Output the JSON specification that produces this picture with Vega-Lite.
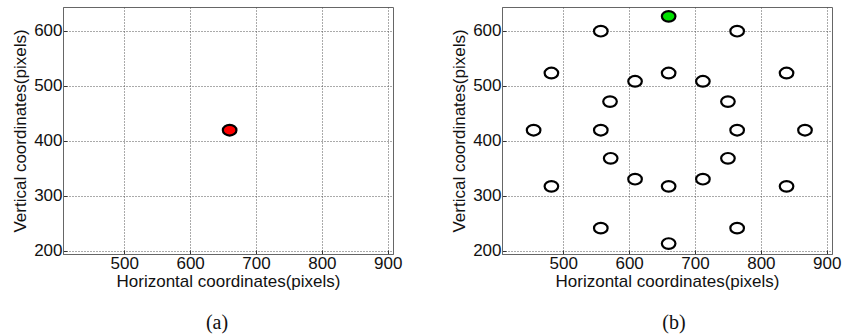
{
  "$schema": "https://vega.github.io/schema/vega-lite/v6.json",
  "padding": {"left": 11, "top": 6, "right": 5, "bottom": 0},
  "background": "white",
  "datasets": {
    "pts": [
      {"panel": "a", "kind": "center", "x": 660, "y": 419},
      {"panel": "b", "kind": "target", "x": 660, "y": 626},
      {"panel": "b", "kind": "other", "x": 557, "y": 599},
      {"panel": "b", "kind": "other", "x": 764, "y": 599},
      {"panel": "b", "kind": "other", "x": 482, "y": 523},
      {"panel": "b", "kind": "other", "x": 660, "y": 523},
      {"panel": "b", "kind": "other", "x": 839, "y": 523},
      {"panel": "b", "kind": "other", "x": 609, "y": 508},
      {"panel": "b", "kind": "other", "x": 712, "y": 508},
      {"panel": "b", "kind": "other", "x": 571, "y": 471},
      {"panel": "b", "kind": "other", "x": 750, "y": 471},
      {"panel": "b", "kind": "other", "x": 455, "y": 419},
      {"panel": "b", "kind": "other", "x": 557, "y": 419},
      {"panel": "b", "kind": "other", "x": 764, "y": 419},
      {"panel": "b", "kind": "other", "x": 867, "y": 419},
      {"panel": "b", "kind": "other", "x": 572, "y": 368},
      {"panel": "b", "kind": "other", "x": 750, "y": 368},
      {"panel": "b", "kind": "other", "x": 609, "y": 330},
      {"panel": "b", "kind": "other", "x": 712, "y": 330},
      {"panel": "b", "kind": "other", "x": 482, "y": 317},
      {"panel": "b", "kind": "other", "x": 660, "y": 317},
      {"panel": "b", "kind": "other", "x": 839, "y": 317},
      {"panel": "b", "kind": "other", "x": 557, "y": 241},
      {"panel": "b", "kind": "other", "x": 764, "y": 241},
      {"panel": "b", "kind": "other", "x": 660, "y": 213}
    ]
  },
  "config": {
    "view": {"stroke": "#666", "strokeWidth": 1},
    "axis": {
      "labelFont": "Liberation Sans",
      "titleFont": "Liberation Sans",
      "labelFontSize": 17,
      "titleFontSize": 17,
      "titleFontWeight": "normal",
      "labelColor": "#111",
      "titleColor": "#111",
      "grid": true,
      "gridDash": [1, 2],
      "gridColor": "#555",
      "gridOpacity": 1,
      "domainColor": "#666",
      "tickColor": "#333",
      "tickSize": -4,
      "labelPadding": 5
    },
    "title": {"font": "Liberation Serif", "fontSize": 20, "fontWeight": "normal", "color": "#111"},
    "concat": {"spacing": 47}
  },
  "hconcat": [
    {
      "width": 330,
      "height": 247,
      "title": {"text": "(a)", "orient": "bottom", "offset": 24, "dx": -11},
      "data": {"name": "pts"},
      "transform": [{"filter": "datum.panel === 'a'"}],
      "mark": {"type": "point", "filled": true, "shape": "M-1,0A1,0.78 0 1,0 1,0A1,0.78 0 1,0 -1,0Z", "size": 185, "stroke": "black", "strokeWidth": 2.2, "opacity": 1},
      "encoding": {
        "x": {"field": "x", "type": "quantitative", "scale": {"domain": [407, 908], "nice": false, "zero": false}, "axis": {"values": [500, 600, 700, 800, 900], "title": "Horizontal coordinates(pixels)", "titlePadding": 2}},
        "y": {"field": "y", "type": "quantitative", "scale": {"domain": [194, 643], "nice": false, "zero": false}, "axis": {"values": [200, 300, 400, 500, 600], "title": "Vertical coordinates(pixels)", "titlePadding": 4}},
        "fill": {"field": "kind", "type": "nominal", "scale": {"domain": ["center", "target", "other"], "range": ["#ff0000", "#00e000", "#ffffff"]}, "legend": null}
      }
    },
    {
      "width": 330,
      "height": 247,
      "title": {"text": "(b)", "orient": "bottom", "offset": 24, "dx": 7},
      "data": {"name": "pts"},
      "transform": [{"filter": "datum.panel === 'b'"}],
      "mark": {"type": "point", "filled": true, "shape": "M-1,0A1,0.78 0 1,0 1,0A1,0.78 0 1,0 -1,0Z", "size": 185, "stroke": "black", "strokeWidth": 2.2, "opacity": 1},
      "encoding": {
        "x": {"field": "x", "type": "quantitative", "scale": {"domain": [407, 908], "nice": false, "zero": false}, "axis": {"values": [500, 600, 700, 800, 900], "title": "Horizontal coordinates(pixels)", "titlePadding": 2}},
        "y": {"field": "y", "type": "quantitative", "scale": {"domain": [194, 643], "nice": false, "zero": false}, "axis": {"values": [200, 300, 400, 500, 600], "title": "Vertical coordinates(pixels)", "titlePadding": 4}},
        "fill": {"field": "kind", "type": "nominal", "scale": {"domain": ["center", "target", "other"], "range": ["#ff0000", "#00e000", "#ffffff"]}, "legend": null}
      }
    }
  ]
}
